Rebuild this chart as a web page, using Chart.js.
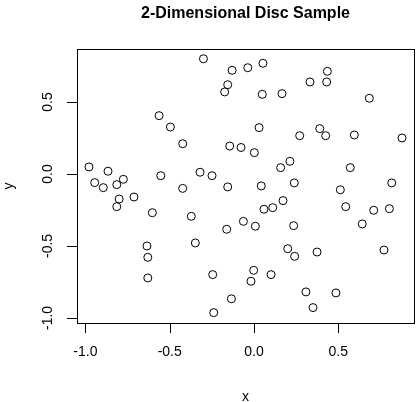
<!DOCTYPE html>
<html lang="en">
<head>
<meta charset="UTF-8">
<title>2-Dimensional Disc Sample</title>
<script src="https://cdn.jsdelivr.net/npm/chart.js"></script>
<style>body{margin:0;background:#fff}</style>
</head>
<body>
<canvas id="c" width="419" height="402"></canvas>
<script>
const xs = [-0.30,-0.13,-0.156,-0.174,-0.563,-0.496,-0.423,-0.144,-0.077,-0.979,-0.866,-0.945,-0.894,-0.814,-0.775,-0.553,-0.32,-0.249,-0.423,-0.156,
  -0.037,0.053,0.435,0.332,0.431,0.049,0.166,0.684,0.030,0.271,0.39,0.425,0.595,0.878,0.002,0.158,0.213,0.571,0.043,0.239,0.817,
  0.512,0.059,0.111,0.172,0.544,0.71,0.803,-0.063,0.008,0.235,0.642,0.2,0.241,0.374,0.771,-0.002,-0.018,0.101,0.308,0.486,0.35,-0.134,
  -0.80,-0.814,-0.712,-0.603,-0.372,-0.162,-0.348,-0.635,-0.63,-0.63,-0.245,-0.239];
const ys = [0.80,0.72,0.62,0.57,0.405,0.326,0.21,0.194,0.184,0.049,0.019,-0.06,-0.095,-0.074,-0.037,-0.012,0.012,-0.012,-0.1,-0.09,
  0.738,0.769,0.713,0.639,0.639,0.553,0.558,0.526,0.322,0.266,0.315,0.266,0.271,0.25,0.148,0.044,0.088,0.044,-0.083,-0.062,-0.062,
  -0.11,-0.245,-0.234,-0.185,-0.227,-0.252,-0.241,-0.329,-0.363,-0.359,-0.347,-0.519,-0.572,-0.542,-0.528,-0.669,-0.745,-0.699,-0.819,-0.826,-0.928,-0.867,
  -0.174,-0.227,-0.16,-0.269,-0.294,-0.384,-0.479,-0.5,-0.579,-0.722,-0.699,-0.963];
const xTicks = [-1.0, -0.5, 0.0, 0.5];
const yTicks = [-1.0, -0.5, 0.0, 0.5];

const rAxes = {
  id: 'rAxes',
  afterDraw(chart) {
    const ctx = chart.ctx, a = chart.chartArea;
    const sx = chart.scales.x, sy = chart.scales.y;
    ctx.save();
    ctx.strokeStyle = '#000'; ctx.lineWidth = 1; ctx.fillStyle = '#000';
    ctx.strokeRect(a.left + 0.5, a.top + 0.5, a.right - a.left, a.bottom - a.top);
    ctx.font = '14px "Liberation Sans", Arial, sans-serif';
    // x axis
    ctx.beginPath();
    ctx.moveTo(sx.getPixelForValue(xTicks[0]), a.bottom + 0.5);
    ctx.lineTo(sx.getPixelForValue(xTicks[xTicks.length - 1]), a.bottom + 0.5);
    xTicks.forEach(v => {
      const p = Math.round(sx.getPixelForValue(v)) + 0.5;
      ctx.moveTo(p, a.bottom); ctx.lineTo(p, a.bottom + 10);
    });
    ctx.stroke();
    ctx.textAlign = 'center'; ctx.textBaseline = 'middle';
    xTicks.forEach(v => ctx.fillText(v.toFixed(1), sx.getPixelForValue(v), a.bottom + 29));
    // y axis
    ctx.beginPath();
    ctx.moveTo(a.left + 0.5, sy.getPixelForValue(yTicks[0]));
    ctx.lineTo(a.left + 0.5, sy.getPixelForValue(yTicks[yTicks.length - 1]));
    yTicks.forEach(v => {
      const p = Math.round(sy.getPixelForValue(v)) + 0.5;
      ctx.moveTo(a.left, p); ctx.lineTo(a.left - 10, p);
    });
    ctx.stroke();
    yTicks.forEach(v => {
      ctx.save();
      ctx.translate(a.left - 29, sy.getPixelForValue(v));
      ctx.rotate(-Math.PI / 2);
      ctx.fillText(v.toFixed(1), 0, 0);
      ctx.restore();
    });
    // axis titles
    ctx.fillText('x', (a.left + a.right) / 2, 397);
    ctx.save();
    ctx.translate(9, (a.top + a.bottom) / 2);
    ctx.rotate(-Math.PI / 2);
    ctx.fillText('y', 0, 0);
    ctx.restore();
    ctx.font = 'bold 16px "Liberation Sans", Arial, sans-serif';
    ctx.fillText('2-Dimensional Disc Sample', (a.left + a.right) / 2, 14);
    ctx.restore();
  }
};

new Chart(document.getElementById('c'), {
  type: 'scatter',
  data: {
    datasets: [{
      data: xs.map((x, i) => ({ x: x, y: ys[i] })),
      pointRadius: 4,
      pointBorderWidth: 1,
      borderColor: '#000',
      backgroundColor: 'rgba(0,0,0,0)'
    }]
  },
  options: {
    responsive: false,
    animation: false,
    layout: { padding: { left: 77, right: 5, top: 49, bottom: 79 } },
    plugins: { legend: { display: false }, tooltip: { enabled: false } },
    scales: {
      x: { type: 'linear', display: false, min: -1.05, max: 0.949 },
      y: { type: 'linear', display: false, min: -1.035, max: 0.868 }
    }
  },
  plugins: [rAxes]
});
</script>
</body>
</html>
